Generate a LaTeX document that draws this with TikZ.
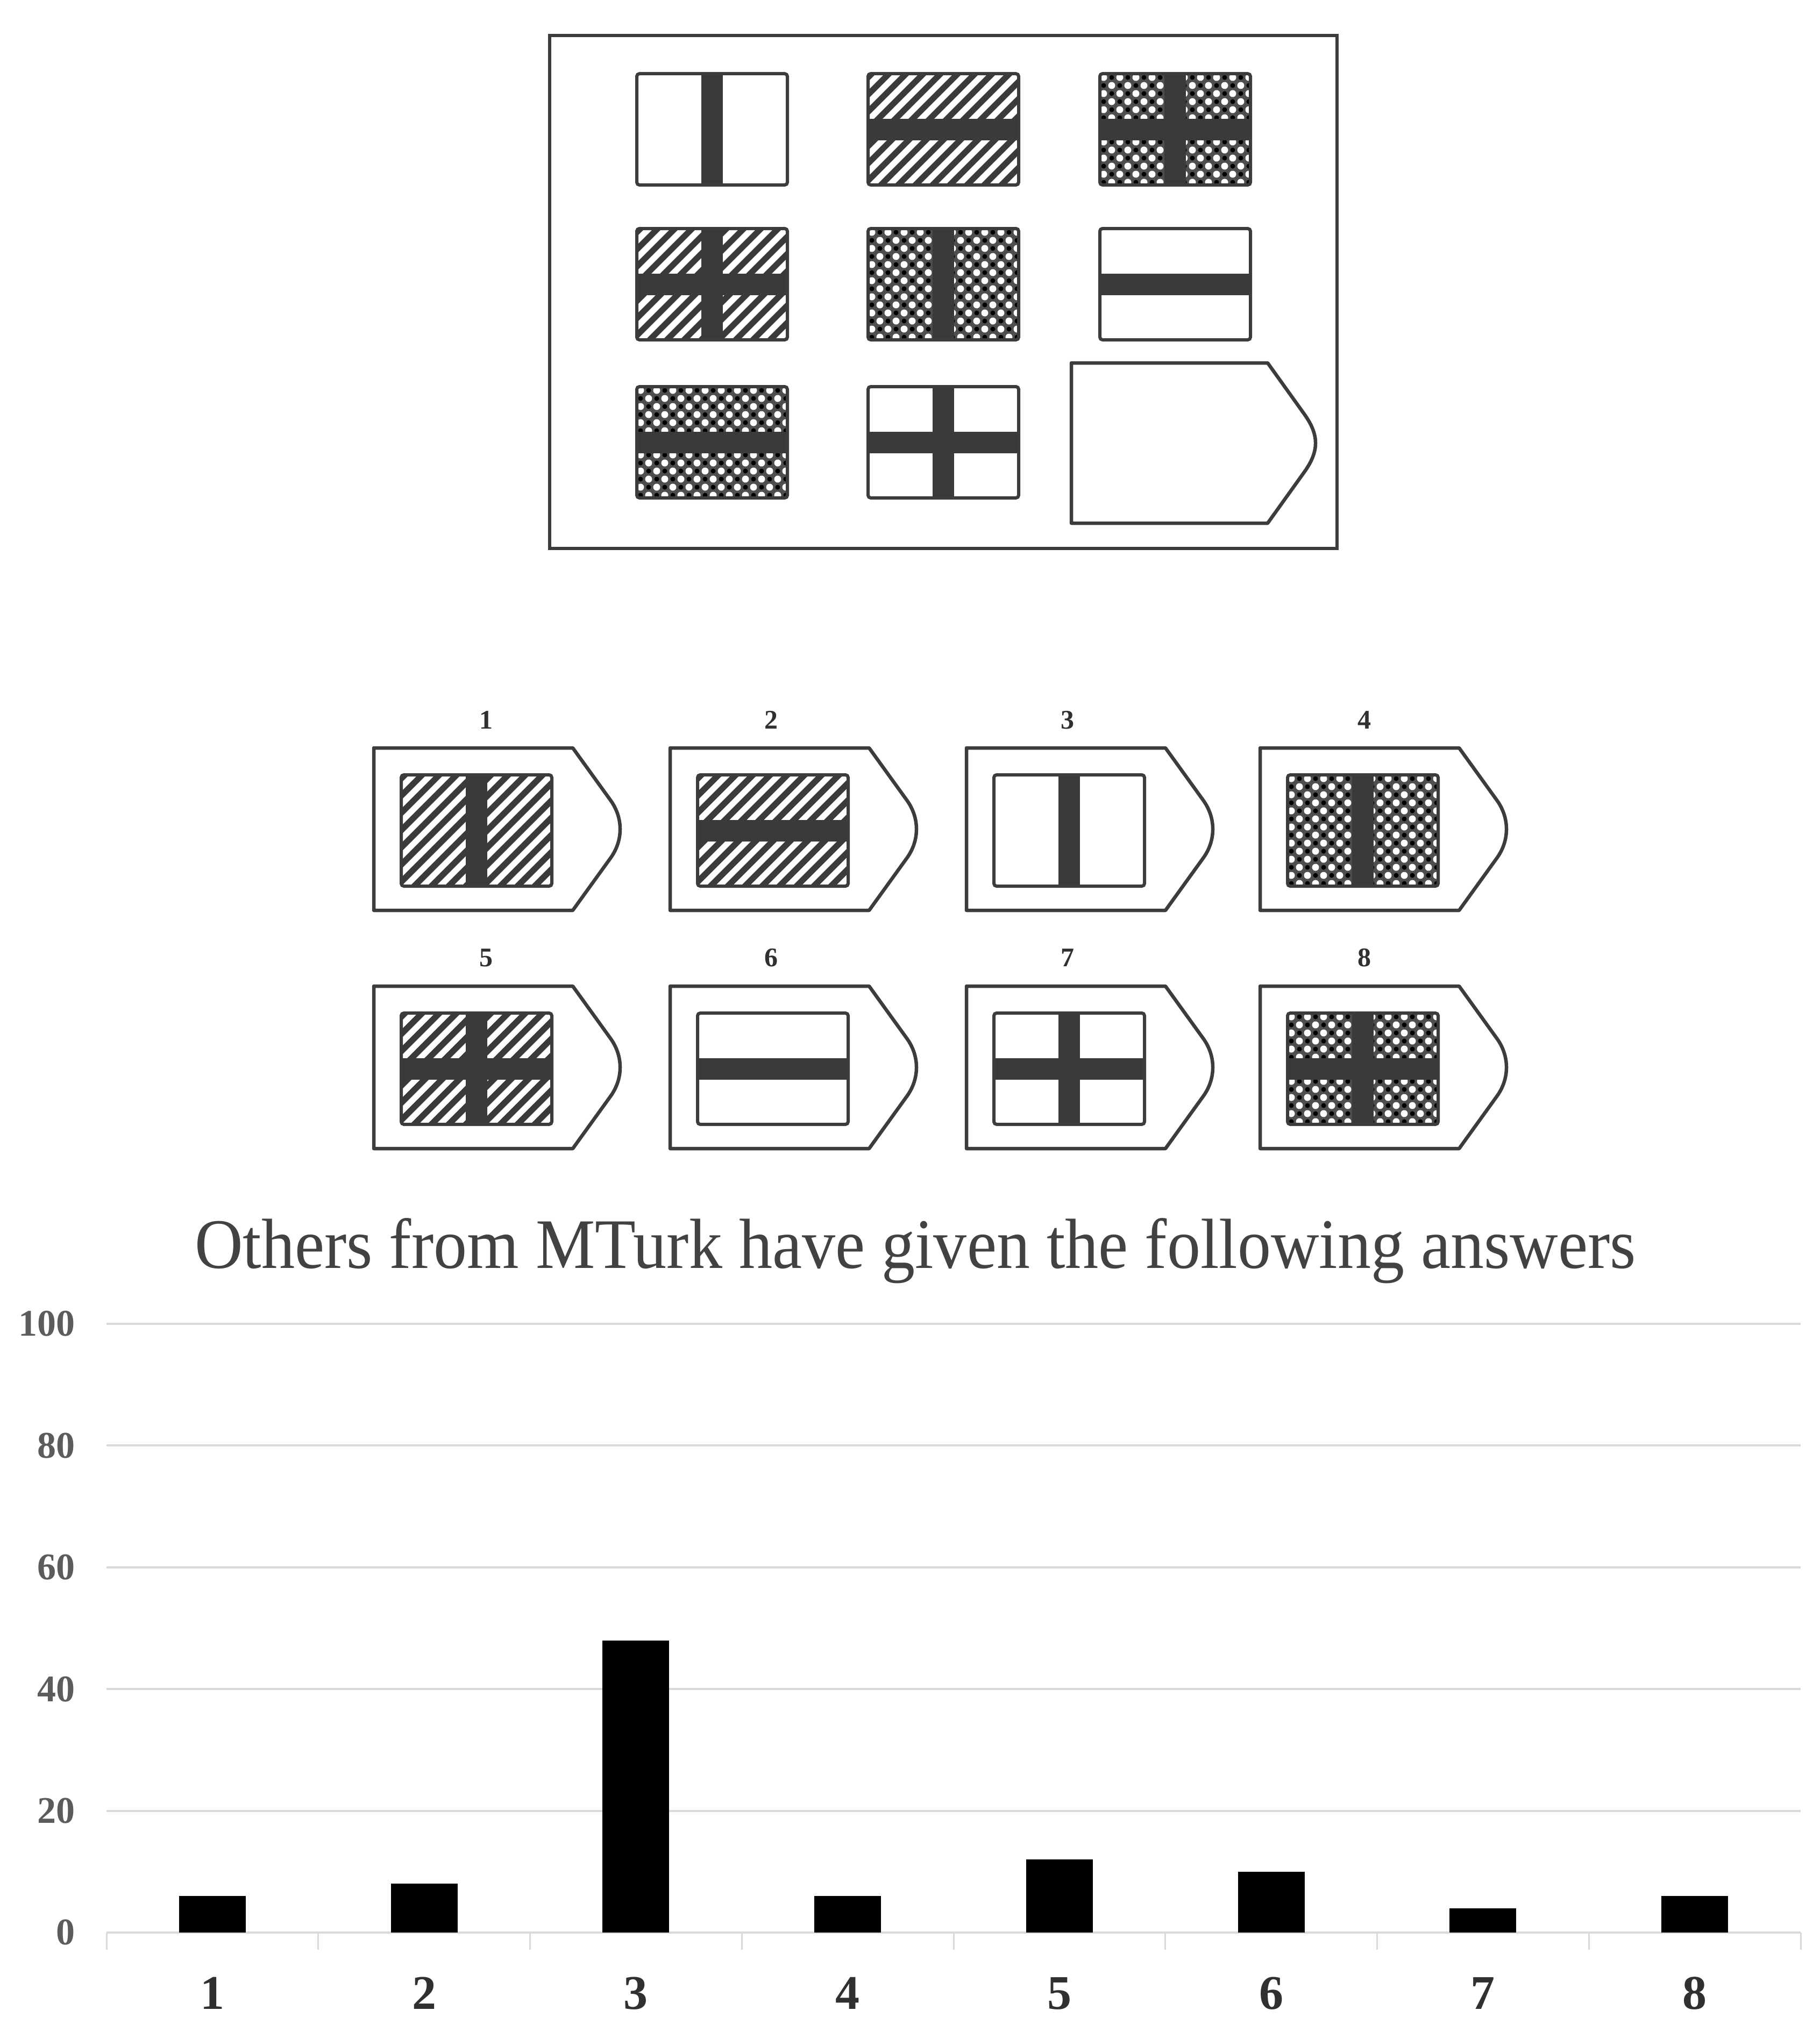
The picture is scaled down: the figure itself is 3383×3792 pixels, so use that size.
\documentclass[tikz,border=0pt]{standalone}
\usepackage{fontspec}
\setmainfont{Liberation Serif}
\usepackage{graphicx}
\definecolor{barc}{HTML}{3A3A3A}
\definecolor{edge}{HTML}{3C3C3C}
\definecolor{dotbg}{HTML}{4E4E4E}
\definecolor{gridc}{HTML}{DADADA}
\definecolor{ylab}{HTML}{5C5C5C}
\definecolor{xlab}{HTML}{303030}
\definecolor{titlec}{HTML}{424242}
\newcommand\patwhite{\fill[white] (0,0) rectangle (280,207);}
\newcommand\pathatch{\fill[barc] (0,0) rectangle (280,207);
  \foreach \k in {-7,...,9} {\draw[white, line width=11pt] ({\k*32},215) -- ({\k*32+222},-7);}}
\newcommand\patdots{\fill[dotbg] (0,0) rectangle (280,207);
  \foreach \i in {0,...,18} {\foreach \j in {0,...,13} {
    \pgfmathtruncatemacro\pp{mod(\i+\j,2)}
    \ifnum\pp=0 \fill[white] ({\i*15+7},{\j*15+7}) circle[radius=6.5pt];
    \else \fill[black] ({\i*15+7},{\j*15+7}) circle[radius=4.5pt]; \fi}}}
\newcommand\barV{\fill[barc] (120,-2) rectangle (160,209);}
\newcommand\barH{\fill[barc] (-2,84) rectangle (282,124);}
\newcommand\barC{\barV\barH}
\newcommand\cellfig[4]{%
  \begin{scope}[shift={(#1,#2)}]
    \begin{scope}
      \clip (0,0) rectangle (280,207);
      \csname pat#3\endcsname
      \csname bar#4\endcsname
    \end{scope}
    \draw[edge, line width=6pt, rounded corners=5pt] (0,0) rectangle (280,207);
  \end{scope}}
\newcommand\opttag[2]{%
  \begin{scope}[shift={(#1,#2)}]
    \draw[edge, line width=6.5pt, line join=round] (0,0) -- (370,0) -- (440,97)
      .. controls (464,130) and (464,172) .. (440,205) -- (370,302) -- (0,302) -- cycle;
  \end{scope}}
% #1 left, #2 top, #3 pattern, #4 bar, #5 label, #6 label x, #7 label y
\newcommand\option[7]{%
  \opttag{#1}{#2}
  \cellfig{#1+51}{#2+50}{#3}{#4}
  \node[optlab] (opt#5) at (#6,#7) {#5};}
\tikzset{
  optlab/.style={inner sep=0pt, text=xlab, font=\fontsize{50pt}{56pt}\selectfont\bfseries},
  ylabel/.style={inner sep=0pt, anchor=east, text=ylab, font=\fontsize{70pt}{80pt}\selectfont\bfseries},
  xlabel/.style={inner sep=0pt, text=xlab, font=\fontsize{90pt}{100pt}\selectfont\bfseries},
}
\begin{document}
\begin{tikzpicture}[x=1pt, y=-1pt]
\useasboundingbox (0,0) rectangle (3383,3792);
\fill[white] (0,0) rectangle (3383,3792);
% matrix box
\draw[edge, line width=6pt] (1022,66) rectangle (2486,1020);
\cellfig{1184}{137}{white}{V}
\cellfig{1614}{137}{hatch}{H}
\cellfig{2045}{137}{dots}{C}
\cellfig{1184}{425}{hatch}{C}
\cellfig{1614}{425}{dots}{V}
\cellfig{2045}{425}{white}{H}
\cellfig{1184}{719}{dots}{H}
\cellfig{1614}{719}{white}{C}
\begin{scope}[shift={(1992,675)}]
  \draw[edge, line width=6.5pt, line join=round] (0,0) -- (365,0) -- (433,95)
    .. controls (461,134) and (461,164) .. (433,203) -- (365,298) -- (0,298) -- cycle;
\end{scope}
% answer options
\option{695}{1391}{hatch}{V}{1}{904}{1339}
\option{1246}{1391}{hatch}{H}{2}{1434}{1339}
\option{1797}{1391}{white}{V}{3}{1985}{1339}
\option{2343}{1391}{dots}{V}{4}{2537}{1339}
\option{695}{1834}{hatch}{C}{5}{904}{1781}
\option{1246}{1834}{white}{H}{6}{1434}{1781}
\option{1797}{1834}{white}{C}{7}{1985}{1781}
\option{2343}{1834}{dots}{C}{8}{2537}{1781}
% title
\node[anchor=base, inner sep=0pt, text=titlec] (title) at (1702,2358)
  {\scalebox{0.94}[1]{\fontsize{132pt}{150pt}\selectfont Others from MTurk have given the following answers}};
% chart
\foreach \v in {0,20,40,60,80,100} {
  \draw[gridc, line width=4pt] (198,{3594-11.32*\v}) -- (3348,{3594-11.32*\v});
  \node[ylabel] (y\v) at (140,{3594-11.32*\v}) {\v};
}
\foreach \k in {0,...,8} {
  \draw[gridc, line width=3pt] ({198+393.75*\k},3594) -- ({198+393.75*\k},3626);
}
\foreach \i/\val in {1/6,2/8,3/48,4/6,5/12,6/10,7/4,8/6} {
  \fill[black] ({198+393.75*(\i-0.5)-62},3594) rectangle ({198+393.75*(\i-0.5)+62},{3594-11.32*\val});
  \node[xlabel] (x\i) at ({198+393.75*(\i-0.5)},3707) {\i};
}
\end{tikzpicture}
\end{document}
